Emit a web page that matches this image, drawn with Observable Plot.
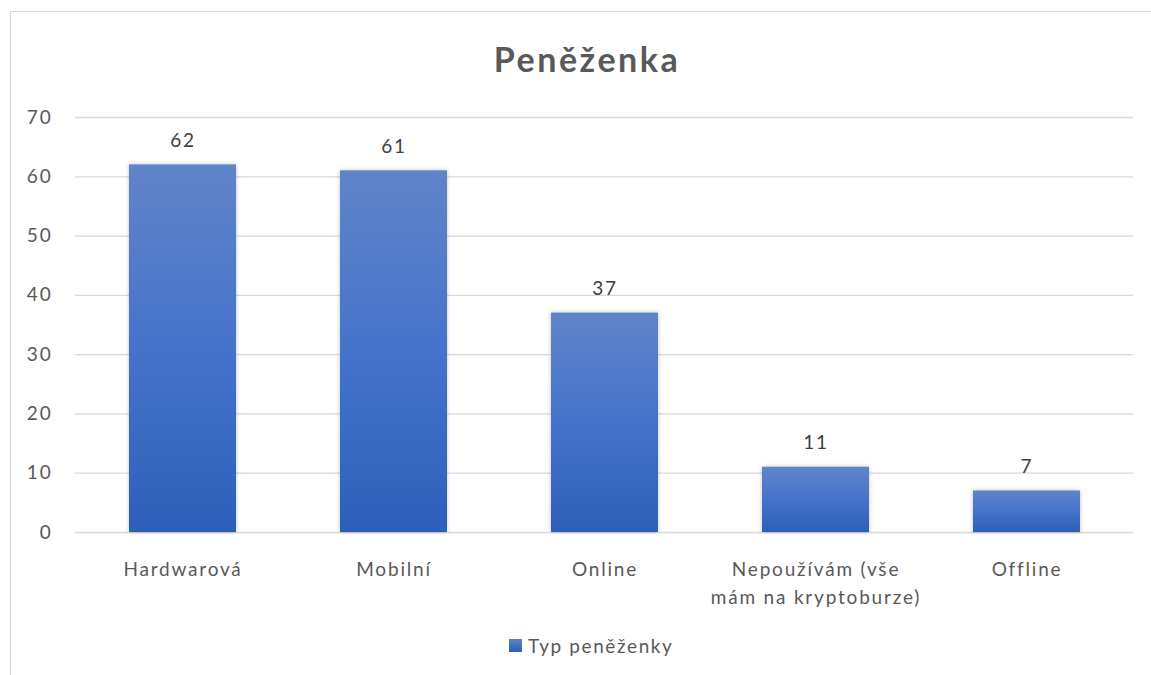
<!DOCTYPE html>
<html>
<head>
<meta charset="utf-8">
<script src="https://cdn.jsdelivr.net/npm/d3@7"></script>
<script src="https://cdn.jsdelivr.net/npm/@observablehq/plot@0.6"></script>
<style>
  body { margin: 0; background: #fff; font-family: Lato, "Open Sans", sans-serif; overflow: hidden; }
  #frame { position: absolute; left: 10px; top: 11px; width: 1200px; height: 720px; border: 1px solid #d9d9d9; box-sizing: border-box; }
  #title { position: absolute; left: 387px; width: 400px; top: 38px; text-align: center; font-size: 34px; font-weight: bold; color: #595959; letter-spacing: 2.5px; }
  #chart { position: absolute; left: 0; top: 0; }
  #legend { position: absolute; left: 509px; top: 634px; font-size: 19px; color: #595959; display: flex; align-items: center; letter-spacing: 1.6px; }
  #legend .sw { width: 13px; height: 13px; margin-right: 6px; background: linear-gradient(#5e82c9, #2f5fb8); }
</style>
</head>
<body>
<div id="frame"></div>
<div id="title">Peněženka</div>
<div id="chart"></div>
<div id="legend"><span class="sw"></span><span>Typ peněženky</span></div>
<script>
const categories = ["Hardwarová", "Mobilní", "Online", "Nepoužívám (vše mám na kryptoburze)", "Offline"];
const tickLabels = ["Hardwarová", "Mobilní", "Online", "Nepoužívám (vše\nmám na kryptoburze)", "Offline"];
const values = [62, 61, 37, 11, 7];
const yTicks = [0, 10, 20, 30, 40, 50, 60, 70];

const data = categories.map((c, i) => ({category: c, value: values[i]}));
const labelOf = new Map(categories.map((c, i) => [c, tickLabels[i]]));

const chart = Plot.plot({
  width: 1151,
  height: 620,
  marginLeft: 75,
  marginRight: 18,
  marginTop: 117,
  marginBottom: 88,
  style: {fontFamily: 'Lato, "Open Sans", sans-serif', background: "transparent", letterSpacing: "1.8px"},
  x: {domain: categories, paddingInner: 0.494, paddingOuter: 0.247, label: null},
  y: {domain: [0, 70], label: null},
  marks: [
    Plot.gridY(yTicks, {stroke: "#d9d9d9", strokeOpacity: 1, strokeWidth: 1.3}),
    Plot.barY(data, {x: "category", y: "value", fill: "url(#barGrad)"}),
    Plot.text(data, {x: "category", y: "value", text: d => String(d.value), dy: -24, fontSize: 19, fill: "#404040"}),
    Plot.axisY(yTicks, {tickSize: 0, tickPadding: 23, fontSize: 19, fill: "#595959", textAnchor: "end"}),
    Plot.axisX({tickSize: 0, tickPadding: 23, fontSize: 19, fill: "#595959", tickFormat: c => labelOf.get(c), lineHeight: 1.5})
  ]
});

const ns = "http://www.w3.org/2000/svg";
const defs = document.createElementNS(ns, "defs");
defs.innerHTML = `<linearGradient id="barGrad" x1="0" y1="0" x2="0" y2="1">
  <stop offset="0" stop-color="#6084c9"/>
  <stop offset="0.5" stop-color="#4573cb"/>
  <stop offset="1" stop-color="#2e5fb8"/>
</linearGradient>`;
chart.insertBefore(defs, chart.firstChild);
chart.querySelectorAll("rect").forEach(r => {
  if (r.getAttribute("fill") === "url(#barGrad)" || (r.parentNode && r.parentNode.getAttribute("fill") === "url(#barGrad)")) {
    r.style.filter = "drop-shadow(0 0 2px rgba(0,0,0,0.25))";
  }
});
document.getElementById("chart").appendChild(chart);
</script>
</body>
</html>
